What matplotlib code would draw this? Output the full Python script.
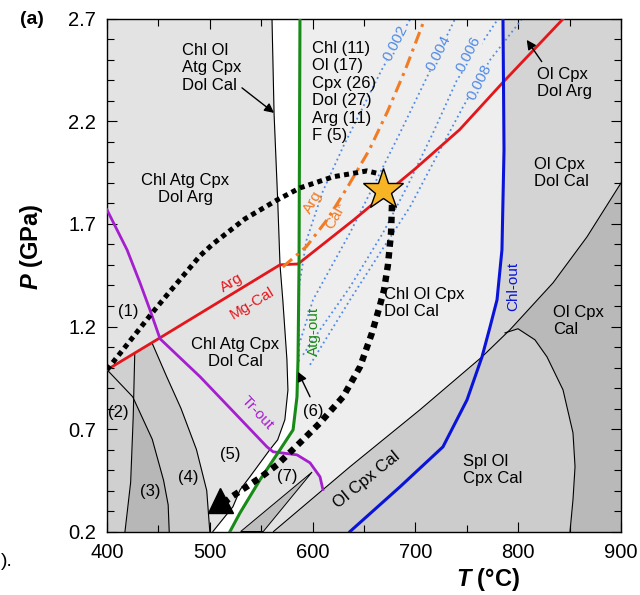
import numpy as np
import matplotlib.pyplot as plt

plt.rcParams['font.family'] = ['Liberation Sans', 'DejaVu Sans']
plt.rcParams['mathtext.fontset'] = 'custom'
plt.rcParams['mathtext.rm'] = 'Liberation Sans'
plt.rcParams['mathtext.it'] = 'Liberation Sans:italic'
plt.rcParams['mathtext.bf'] = 'Liberation Sans:bold'
plt.rcParams['mathtext.bfit'] = 'Liberation Sans:italic:bold'

# ---- phase boundaries (T in degC, P in GPa) ----
atg_T = [560.5, 562.5, 566, 568.3, 571, 575, 576, 573, 566, 558.5, 539, 529.5, 522.5, 503]
atg_P = [2.7, 2.24, 1.82, 1.5, 1.33, 1.04, 0.89, 0.745, 0.647, 0.6, 0.467, 0.404, 0.321, 0.2]

atg_out_T = [587.7, 586.8, 585.8, 584.8, 581, 568.3, 548.8, 529.4, 519.6]
atg_out_P = [2.7, 1.5, 1.037, 0.857, 0.696, 0.599, 0.452, 0.291, 0.2]

chl_out_T = [785.2, 786.2, 784.2, 779.4, 772.6, 764.8, 750.2, 726.8, 685, 636.4]
chl_out_P = [2.7, 2.061, 1.574, 1.33, 1.198, 1.052, 0.842, 0.613, 0.418, 0.2]

tr_out_T = [400, 419.5, 432.1, 441.8, 451.6, 490.5, 555.6, 561.5, 584.8, 597.5, 607.2, 610]
tr_out_P = [1.769, 1.574, 1.413, 1.281, 1.14, 0.955, 0.613, 0.589, 0.574, 0.535, 0.467, 0.405]

arg_T = [400, 451.6, 568.3, 585.8, 640, 700, 743, 785, 843.6]
arg_P = [0.989, 1.145, 1.501, 1.505, 1.72, 1.97, 2.16, 2.39, 2.7]

arg_star_T = [571, 594, 614, 634, 655, 673, 690, 709]
arg_star_P = [1.49, 1.59, 1.72, 1.88, 2.06, 2.25, 2.45, 2.7]

diag_T = [562, 636.4, 704.5, 764.8, 792, 833.9, 866.9, 900]
diag_P = [0.2, 0.516, 0.794, 1.052, 1.184, 1.413, 1.637, 1.9]

spl_T = [787.2, 799.8, 816.3, 828, 843.6, 853.3, 855.3, 853.3, 850.4]
spl_P = [1.169, 1.189, 1.135, 1.052, 0.891, 0.681, 0.516, 0.355, 0.2]

a_T = [400, 425, 444, 455, 459.5, 460.5]
a_P = [0.989, 0.857, 0.65, 0.45, 0.33, 0.2]
b_T = [427, 425.5, 423, 417.5]
b_P = [1.07, 0.76, 0.44, 0.2]
c_T = [443.8, 458, 472, 487, 497, 500]
c_P = [1.12, 0.956, 0.80, 0.60, 0.40, 0.2]

wedge_T = [530, 599.5, 552]
wedge_P = [0.2, 0.49, 0.2]

# water-activity isopleths
iso_labels = ['0.002', '0.004', '0.006', '0.008']
iso_T = [[586.8, 587, 594, 610, 630, 650, 667, 695],
         [586.8, 600.4, 636.4, 658.8, 685, 711.3, 738.5],
         [590.7, 607.2, 636.4, 668.5, 691.8, 717.1, 740.5, 780.4],
         [597.5, 636.4, 665.6, 694.7, 723.9, 746.3, 772.6, 803.7]]
iso_P = [[1.03, 1.40, 1.62, 1.86, 2.08, 2.28, 2.45, 2.7],
         [1.11, 1.33, 1.657, 1.881, 2.144, 2.417, 2.7],
         [1.062, 1.184, 1.393, 1.657, 1.881, 2.144, 2.403, 2.7],
         [1.013, 1.33, 1.559, 1.783, 2.061, 2.271, 2.5, 2.7]]
iso_label_T = [680.2, 722, 752.1, 761.9]
iso_label_P = [2.583, 2.534, 2.529, 2.393]

# P-T path
prograde_T = [400, 422.4, 444.7, 458.4, 490.5, 503.1, 534.2, 565.4, 587.7, 619.8, 652.9, 665.6]
prograde_P = [0.989, 1.13, 1.271, 1.354, 1.545, 1.603, 1.725, 1.817, 1.876, 1.93, 1.959, 1.944]
retro_T = [677.2, 676.3, 673.3, 669.5, 665.6, 657.8, 646.1, 629.6, 607.2, 587.7, 565.4, 548.8, 522.6, 514.8]
retro_P = [1.793, 1.657, 1.501, 1.379, 1.305, 1.169, 1.003, 0.857, 0.73, 0.633, 0.525, 0.462, 0.374, 0.345]
peak_T, peak_P = 668.5, 1.866
end_T, end_P = 509.9, 0.355

x_ticks = [400, 500, 600, 700, 800, 900]
y_ticks = [0.2, 0.7, 1.2, 1.7, 2.2, 2.7]


def along(P, T_pts, P_pts):
    T_pts, P_pts = np.asarray(T_pts), np.asarray(P_pts)
    order = np.argsort(P_pts)
    return np.interp(P, P_pts[order], T_pts[order])


fig = plt.figure(figsize=(6.4, 5.95), dpi=100)
ax = fig.add_axes([0.1672, 0.1067, 0.8031, 0.8614])
ax.set_xlim(400, 900)
ax.set_ylim(0.2, 2.7)
ax.set_facecolor('#e3e3e3')

Pg = np.linspace(0.2, 2.7, 2000)
t_green = along(Pg, atg_out_T, atg_out_P)
t_atg = along(Pg, atg_T, atg_P)
t_chl = along(Pg, chl_out_T, chl_out_P)
t_diag = along(Pg, diag_T, diag_P)
t_red = np.maximum(400, along(Pg, arg_T, arg_P))

# fields right of the Atg-out line
ax.fill_betweenx(Pg, t_green, 900, color='#eeeeee', lw=0, zorder=0.5)
ax.fill_betweenx(Pg, t_atg, t_green, color='white', lw=0, zorder=0.5)
ax.fill_betweenx(Pg, t_chl, 900, color='#d4d4d4', lw=0, zorder=0.6)
Tg = np.linspace(diag_T[0], 900, 800)
ax.fill_between(Tg, 0.2, np.interp(Tg, diag_T, diag_P), color='#cccccc', lw=0, zorder=0.7)
t_dome = along(Pg, spl_T[1:], spl_P[1:])
dark_left = np.where(Pg <= spl_P[1], t_dome, t_diag)
ax.fill_betweenx(Pg, dark_left, 900, where=Pg <= diag_P[-1], interpolate=True,
                 color='#b9b9b9', lw=0, zorder=0.8)

# field (7)
t_tr = along(Pg, tr_out_T[7:], tr_out_P[7:])
right7 = np.where(Pg <= tr_out_P[-1], t_diag, t_tr)
ax.fill_betweenx(Pg, t_green, right7, where=(right7 > t_green) & (Pg < 0.62),
                 interpolate=True, color='#e2e2e2', lw=0, zorder=0.8)
ax.fill(wedge_T, wedge_P, facecolor='#bebebe', edgecolor='k', lw=0.7, zorder=1)

# low-T fields (2)-(4)
t_a = along(Pg, a_T, a_P)
t_b = along(Pg, b_T, b_P)
t_c = along(Pg, c_T, c_P)
ax.fill_betweenx(Pg, t_red, t_c, where=Pg <= c_P[0], interpolate=True, color='#cacaca', lw=0, zorder=0.8)
ax.fill_betweenx(Pg, t_red, t_b, where=Pg <= b_P[0], interpolate=True, color='#d0d0d0', lw=0, zorder=0.9)
ax.fill_betweenx(Pg, t_b, t_a, where=(t_a > t_b) & (Pg < 0.95), interpolate=True,
                 color='#b7b7b7', lw=0, zorder=1)

# thin field boundaries
for xs, ys in [(atg_T, atg_P), (a_T, a_P), (b_T, b_P), (c_T, c_P), (diag_T, diag_P), (spl_T, spl_P)]:
    ax.plot(xs, ys, color='k', lw=0.8, zorder=2)

# isopleths
for lab, xs, ys, lx, ly in zip(iso_labels, iso_T, iso_P, iso_label_T, iso_label_P):
    ax.plot(xs, ys, color='#4f8ae6', lw=1.3, ls=(0, (1, 1.8)), zorder=2.5)
    ax.text(lx, ly, lab, color='#4f8ae6', fontsize=11, rotation=63, ha='center', va='center',
            zorder=2.6, bbox=dict(facecolor='#eeeeee', edgecolor='none', pad=0.2))

# reaction lines
ax.plot(arg_T, arg_P, color='#e3161b', lw=2, zorder=3)
ax.plot(tr_out_T, tr_out_P, color='#a51fcf', lw=2, zorder=3)
ax.plot(atg_out_T, atg_out_P, color='#188a18', lw=2.2, zorder=3)
ax.plot(chl_out_T, chl_out_P, color='#0a14d8', lw=2.2, zorder=3)
ax.plot(arg_star_T, arg_star_P, color='#f27b25', lw=2.2, ls=(0, (4, 1.8, 1, 1.8)), zorder=3)

# P-T path
ax.plot(prograde_T, prograde_P, color='k', lw=3.6, ls=(0, (1, 0.85)), zorder=4)
ax.plot(retro_T, retro_P, color='k', lw=4.6, ls=(0, (1, 0.85)), zorder=4)
ax.plot(peak_T, peak_P, marker='*', ms=31, mfc='#f7b526', mec='k', mew=1, zorder=5)
ax.plot(end_T, end_P, marker='^', ms=18, color='k', zorder=5)

# field labels
fs = 12
ls = 1.2
ax.text(473, 2.461, 'Chl Ol\nAtg Cpx\nDol Cal', fontsize=fs, ha='left', va='center', linespacing=ls)
ax.text(475.9, 1.871, 'Chl Atg Cpx\nDol Arg', fontsize=fs, ha='center', va='center', linespacing=ls)
ax.text(599.4, 2.344, 'Chl (11)\nOl (17)\nCpx (26)\nDol (27)\nArg (11)\nF (5)',
        fontsize=fs, ha='left', va='center', linespacing=ls, zorder=6)
ax.text(818.3, 2.388, 'Ol Cpx\nDol Arg', fontsize=fs, ha='left', va='center', linespacing=ls)
ax.text(815.4, 1.949, 'Ol Cpx\nDol Cal', fontsize=fs, ha='left', va='center', linespacing=ls)
ax.text(669.5, 1.315, 'Chl Ol Cpx\nDol Cal', fontsize=fs, ha='left', va='center', linespacing=ls, zorder=6)
ax.text(833.9, 1.228, 'Ol Cpx\nCal', fontsize=fs, ha='left', va='center', linespacing=ls)
ax.text(746.3, 0.501, 'Spl Ol\nCpx Cal', fontsize=fs, ha='left', va='center', linespacing=ls)
ax.text(652.9, 0.452, 'Ol Cpx Cal', fontsize=fs, ha='center', va='center', rotation=39)
ax.text(524.5, 1.072, 'Chl Atg Cpx\nDol Cal', fontsize=fs, ha='center', va='center', linespacing=ls)

for lab, x, y in [('(1)', 420.4, 1.271), ('(2)', 410.7, 0.779), ('(3)', 441.8, 0.394),
                  ('(4)', 478.8, 0.462), ('(5)', 519.6, 0.574), ('(6)', 600.4, 0.784),
                  ('(7)', 575.1, 0.467)]:
    ax.text(x, y, lab, fontsize=fs, ha='center', va='center', zorder=6)

arrow = dict(arrowstyle='-|>', color='k', lw=1, mutation_scale=14, shrinkA=0, shrinkB=0)
ax.annotate('', xy=(562.5, 2.242), xytext=(531.3, 2.364), arrowprops=arrow, zorder=6)
ax.annotate('', xy=(808.3, 2.598), xytext=(822.9, 2.492), arrowprops=arrow, zorder=6)
ax.annotate('', xy=(585.8, 0.979), xytext=(597.5, 0.857), arrowprops=arrow, zorder=6)

# reaction labels
ax.text(521.6, 1.413, 'Arg', color='#e3161b', fontsize=11, rotation=31, ha='center', va='center')
ax.text(541, 1.315, 'Mg-Cal', color='#e3161b', fontsize=11, rotation=31, ha='center', va='center')
ax.text(545.9, 0.779, 'Tr-out', color='#a51fcf', fontsize=11, rotation=-47, ha='center', va='center')
ax.text(601.4, 1.174, 'Atg-out', color='#188a18', fontsize=11, rotation=90, ha='center', va='center')
ax.text(795, 1.393, 'Chl-out', color='#0a14d8', fontsize=11, rotation=90, ha='center', va='center')
ax.text(600.4, 1.808, 'Arg', color='#f27b25', fontsize=11, rotation=60, ha='center', va='center')
ax.text(622.8, 1.74, 'Cal*', color='#f27b25', fontsize=11, rotation=60, ha='center', va='center')

# axes
ax.set_xticks(x_ticks)
ax.set_xticklabels([str(t) for t in x_ticks])
ax.set_xticks(np.arange(400, 901, 50), minor=True)
ax.set_yticks(y_ticks)
ax.set_yticklabels([f'{t:.1f}' for t in y_ticks])
ax.set_yticks(np.arange(0.2, 2.71, 0.1), minor=True)
ax.tick_params(which='both', direction='in', top=True, right=True, labelsize=14.5, pad=8)
ax.tick_params(which='major', length=7, width=0.8)
ax.tick_params(which='minor', length=5, width=0.8)
for s in ax.spines.values():
    s.set_linewidth(1)

ax.set_xlabel(r'$\mathbfit{T}$ (°C)', fontsize=17, fontweight='bold')
ax.xaxis.set_label_coords(0.741, -0.068)
ax.set_ylabel(r'$\mathbfit{P}$ (GPa)', fontsize=17, fontweight='bold')
ax.yaxis.set_label_coords(-0.121, 0.555)

fig.text(32 / 640, 1 - 19 / 595, '(a)', fontsize=14, fontweight='bold', ha='center', va='center')
fig.text(0.001, 1 - 562 / 595, ').', fontsize=14, ha='left', va='center')

fig.savefig('out.png', dpi=100)
